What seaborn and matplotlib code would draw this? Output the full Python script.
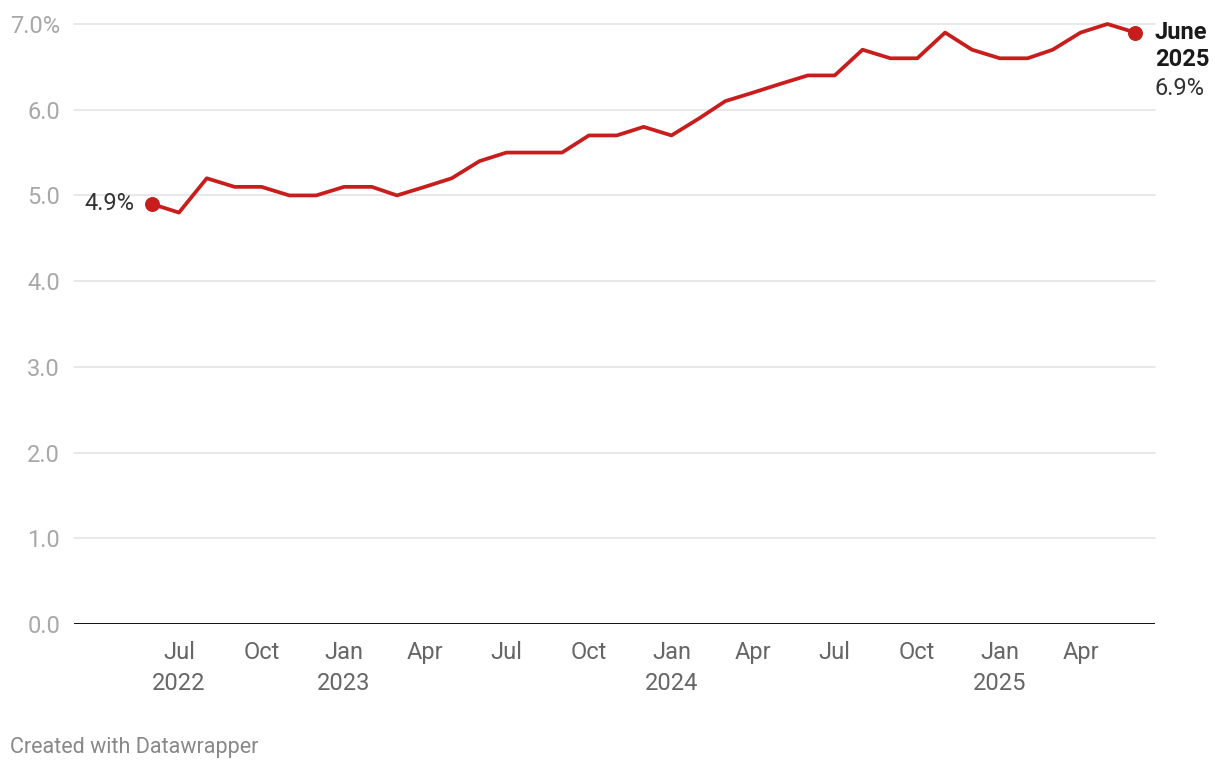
import pandas as pd
import matplotlib.pyplot as plt
import seaborn as sns

# monthly values, June 2022 - June 2025
months = pd.date_range("2022-06-01", periods=37, freq="MS")
rate = [4.9, 4.8, 5.2, 5.1, 5.1, 5.0, 5.0, 5.1, 5.1, 5.0, 5.1, 5.2,
        5.4, 5.5, 5.5, 5.5, 5.7, 5.7, 5.8, 5.7, 5.9, 6.1, 6.2, 6.3,
        6.4, 6.4, 6.7, 6.6, 6.6, 6.9, 6.7, 6.6, 6.6, 6.7, 6.9, 7.0, 6.9]

x_ticks = pd.to_datetime(["2022-07-01", "2022-10-01", "2023-01-01", "2023-04-01",
                          "2023-07-01", "2023-10-01", "2024-01-01", "2024-04-01",
                          "2024-07-01", "2024-10-01", "2025-01-01", "2025-04-01"])
x_labels = ["Jul\n2022", "Oct", "Jan\n2023", "Apr", "Jul", "Oct", "Jan\n2024",
            "Apr", "Jul", "Oct", "Jan\n2025", "Apr"]
y_ticks = [0, 1, 2, 3, 4, 5, 6, 7]
y_labels = ["0.0", "1.0", "2.0", "3.0", "4.0", "5.0", "6.0", "7.0%"]

df = pd.DataFrame({"month": months, "rate": rate})

sns.set_style("white")
plt.rcParams["font.family"] = ["Roboto", "DejaVu Sans"]

RED = "#c71e1d"

fig = plt.figure(figsize=(12.2, 7.7), dpi=100)
ax = fig.add_axes([74 / 1220, 146 / 770, 1081 / 1220, 600 / 770])

sns.lineplot(data=df, x="month", y="rate", ax=ax, color=RED, linewidth=2.7,
             clip_on=False, zorder=3)
ends = df.iloc[[0, -1]]
ax.scatter(ends["month"], ends["rate"], s=95, color=RED, zorder=4, clip_on=False)

ax.set_ylim(0, 7)
ax.set_xlim(months[0] - pd.Timedelta(days=87), months[-1] + pd.Timedelta(days=22))

ax.set_yticks(y_ticks)
ax.set_yticklabels(y_labels, color="#a8a8a8", fontsize=17)
ax.set_xticks(x_ticks)
ax.set_xticklabels(x_labels, color="#666666", fontsize=17, linespacing=1.45)
ax.tick_params(axis="both", length=0)
ax.tick_params(axis="x", pad=12)
ax.tick_params(axis="y", pad=10)

for t in y_ticks[1:]:
    ax.axhline(t, color="#e2e2e2", linewidth=1.1, zorder=1, clip_on=False)
ax.axhline(0, color="#111111", linewidth=1.4, zorder=2)

for s in ax.spines.values():
    s.set_visible(False)
ax.set_xlabel("")
ax.set_ylabel("")

# labels at the ends
ax.annotate("4.9%", (months[0], rate[0]), xytext=(-13, 0), textcoords="offset points",
            ha="right", va="center", fontsize=17, color="#333333")
ax.annotate("June", (months[-1], rate[-1]), xytext=(14, 0), textcoords="offset points",
            ha="left", va="center", fontsize=17, fontweight="bold", color="#1a1a1a",
            annotation_clip=False)
ax.annotate("2025", (months[-1], rate[-1]), xytext=(14, -19.5), textcoords="offset points",
            ha="left", va="center", fontsize=17, fontweight="bold", color="#1a1a1a",
            annotation_clip=False)
ax.annotate("6.9%", (months[-1], rate[-1]), xytext=(14, -40), textcoords="offset points",
            ha="left", va="center", fontsize=17, color="#333333", annotation_clip=False)

fig.text(10 / 1220, 1 - 747 / 770, "Created with Datawrapper", ha="left", va="center",
         fontsize=15.5, color="#888888")

fig.savefig("out.png", dpi=100)
